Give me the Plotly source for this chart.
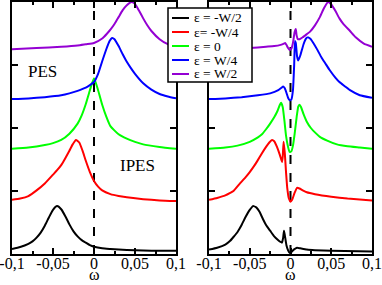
import plotly.graph_objects as go

# ---------------- data ----------------
labels = ["ε = -W/2", "ε= -W/4", "ε = 0", "ε = W/4", "ε = W/2"]
colors = ["#000000", "#ff0000", "#00ff00", "#0000ff", "#9400d3"]

# Left panel
L_black_x = [-0.1, -0.09, -0.08, -0.075, -0.07, -0.065, -0.06, -0.055, -0.05, -0.045, -0.04, -0.035, -0.03, -0.025, -0.02, -0.015, -0.01, -0.005, 0.0, 0.01, 0.02, 0.04, 0.06, 0.08, 0.1]
L_black_y = [0.08, 0.11, 0.16, 0.20, 0.26, 0.34, 0.45, 0.58, 0.70, 0.76, 0.71, 0.60, 0.47, 0.36, 0.28, 0.22, 0.18, 0.14, 0.115, 0.09, 0.08, 0.065, 0.055, 0.05, 0.05]

L_red_x = [-0.1, -0.09, -0.08, -0.07, -0.06, -0.05, -0.045, -0.04, -0.035, -0.03, -0.026, -0.022, -0.018, -0.014, -0.01, -0.005, 0.0, 0.005, 0.01, 0.02, 0.03, 0.04, 0.06, 0.08, 0.1]
L_red_y = [0.86, 0.88, 0.92, 1.01, 1.12, 1.26, 1.33, 1.41, 1.52, 1.64, 1.74, 1.81, 1.77, 1.64, 1.48, 1.30, 1.16, 1.07, 1.01, 0.95, 0.92, 0.90, 0.87, 0.85, 0.84]

L_green_x = [-0.1, -0.08, -0.06, -0.05, -0.04, -0.03, -0.02, -0.015, -0.01, -0.005, 0.0, 0.005, 0.01, 0.015, 0.02, 0.03, 0.04, 0.05, 0.06, 0.08, 0.1]
L_green_y = [1.67, 1.69, 1.73, 1.76, 1.81, 1.91, 2.07, 2.20, 2.38, 2.60, 2.79, 2.60, 2.37, 2.18, 2.03, 1.90, 1.83, 1.78, 1.74, 1.70, 1.67]

L_blue_x = [-0.1, -0.08, -0.06, -0.04, -0.03, -0.02, -0.01, -0.005, 0.0, 0.005, 0.01, 0.015, 0.019, 0.022, 0.025, 0.03, 0.035, 0.04, 0.045, 0.05, 0.06, 0.07, 0.08, 0.09, 0.1]
L_blue_y = [2.46, 2.47, 2.49, 2.52, 2.55, 2.59, 2.64, 2.68, 2.73, 2.86, 3.06, 3.25, 3.38, 3.43, 3.41, 3.30, 3.17, 3.05, 2.95, 2.86, 2.71, 2.61, 2.54, 2.50, 2.47]

L_purple_x = [-0.1, -0.07, -0.04, -0.02, -0.01, 0.0, 0.01, 0.016, 0.02, 0.025, 0.03, 0.035, 0.04, 0.046, 0.05, 0.055, 0.06, 0.065, 0.07, 0.08, 0.09, 0.1]
L_purple_y = [3.25, 3.27, 3.29, 3.31, 3.33, 3.35, 3.42, 3.50, 3.56, 3.65, 3.76, 3.87, 3.95, 4.00, 3.97, 3.86, 3.74, 3.63, 3.54, 3.41, 3.33, 3.28]

# Right panel
R_black_x = [-0.1, -0.09, -0.08, -0.074, -0.07, -0.065, -0.06, -0.055, -0.05, -0.046, -0.042, -0.038, -0.034, -0.03, -0.025, -0.02, -0.015, -0.012, -0.0105, -0.009, -0.008, -0.007, -0.005, -0.003, -0.001, 0.001, 0.004, 0.008, 0.012, 0.02, 0.03, 0.05, 0.1]
R_black_y = [0.07, 0.10, 0.15, 0.21, 0.27, 0.35, 0.46, 0.59, 0.70, 0.76, 0.74, 0.67, 0.56, 0.46, 0.37, 0.28, 0.22, 0.19, 0.18, 0.26, 0.37, 0.30, 0.14, 0.06, 0.02, 0.03, 0.07, 0.10, 0.09, 0.07, 0.06, 0.05, 0.04]

R_red_x = [-0.1, -0.09, -0.08, -0.074, -0.07, -0.062, -0.055, -0.05, -0.045, -0.041, -0.035, -0.03, -0.026, -0.0227, -0.02, -0.0166, -0.013, -0.0104, -0.0095, -0.0085, -0.007, -0.0055, -0.004, -0.002, 0.0, 0.002, 0.005, 0.008, 0.011, 0.015, 0.02, 0.03, 0.05, 0.07, 0.1]
R_red_y = [0.86, 0.89, 0.93, 0.97, 1.00, 1.12, 1.22, 1.30, 1.39, 1.47, 1.60, 1.70, 1.77, 1.81, 1.79, 1.70, 1.57, 1.46, 1.55, 1.78, 1.60, 1.30, 1.05, 0.88, 0.83, 0.86, 0.97, 1.05, 1.04, 1.01, 0.98, 0.95, 0.91, 0.88, 0.85]

R_green_x = [-0.1, -0.08, -0.065, -0.05, -0.04, -0.035, -0.03, -0.025, -0.02, -0.016, -0.013, -0.0115, -0.0095, -0.0075, -0.0055, -0.003, -0.001, 0.001, 0.003, 0.005, 0.0075, 0.0095, 0.011, 0.013, 0.016, 0.02, 0.025, 0.03, 0.036, 0.045, 0.057, 0.07, 0.085, 0.1]
R_green_y = [1.67, 1.69, 1.72, 1.78, 1.85, 1.90, 1.98, 2.07, 2.17, 2.27, 2.37, 2.40, 2.33, 2.12, 1.88, 1.70, 1.62, 1.63, 1.72, 1.90, 2.17, 2.34, 2.37, 2.33, 2.22, 2.10, 2.00, 1.93, 1.86, 1.80, 1.74, 1.71, 1.69, 1.67]

R_blue_x = [-0.1, -0.08, -0.06, -0.04, -0.025, -0.015, -0.011, -0.009, -0.007, -0.005, -0.003, -0.001, 0.001, 0.003, 0.0045, 0.0055, 0.0065, 0.008, 0.0095, 0.012, 0.016, 0.019, 0.021, 0.024, 0.028, 0.033, 0.038, 0.043, 0.048, 0.055, 0.06, 0.067, 0.073, 0.085, 0.1]
R_blue_y = [2.46, 2.47, 2.49, 2.52, 2.55, 2.60, 2.64, 2.66, 2.63, 2.56, 2.48, 2.44, 2.45, 2.60, 3.00, 3.38, 3.35, 3.14, 3.07, 3.15, 3.33, 3.42, 3.44, 3.42, 3.35, 3.24, 3.12, 3.02, 2.92, 2.80, 2.73, 2.66, 2.60, 2.52, 2.48]

R_purple_x = [-0.1, -0.07, -0.05, -0.03, -0.02, -0.012, -0.008, -0.0065, -0.005, -0.003, -0.001, 0.001, 0.003, 0.005, 0.0065, 0.0075, 0.009, 0.011, 0.015, 0.02, 0.024, 0.03, 0.036, 0.041, 0.046, 0.05, 0.055, 0.06, 0.065, 0.073, 0.08, 0.09, 0.1]
R_purple_y = [3.25, 3.26, 3.27, 3.29, 3.30, 3.32, 3.34, 3.35, 3.32, 3.27, 3.24, 3.26, 3.35, 3.52, 3.57, 3.47, 3.41, 3.41, 3.44, 3.49, 3.53, 3.63, 3.76, 3.90, 4.00, 3.96, 3.86, 3.74, 3.65, 3.54, 3.44, 3.34, 3.29]

x_tickvals = [-0.1, -0.05, 0, 0.05, 0.1]
x_ticktext = ["-0,1", "-0,05", "0", "0,05", "0,1"]
y_tickvals = [0, 1, 2, 3, 4]

left = [(L_black_x, L_black_y), (L_red_x, L_red_y), (L_green_x, L_green_y), (L_blue_x, L_blue_y), (L_purple_x, L_purple_y)]
right = [(R_black_x, R_black_y), (R_red_x, R_red_y), (R_green_x, R_green_y), (R_blue_x, R_blue_y), (R_purple_x, R_purple_y)]

FONT = "Liberation Serif"
fig = go.Figure()

for i, (xs, ys) in enumerate(left):
    fig.add_trace(go.Scatter(x=xs, y=ys, mode="lines", name=labels[i],
                             line=dict(color=colors[i], width=2, shape="spline", smoothing=0.5),
                             xaxis="x", yaxis="y", showlegend=False))
for i, (xs, ys) in enumerate(right):
    fig.add_trace(go.Scatter(x=xs, y=ys, mode="lines", name=labels[i],
                             line=dict(color=colors[i], width=2, shape="spline", smoothing=0.4),
                             xaxis="x2", yaxis="y2", showlegend=False))

W, H = 382, 285
xd1 = [12 / W, 176 / W]
xd2 = [209 / W, 372 / W]
yd = [(H - 254) / H, (H - 2) / H]

xcommon = dict(range=[-0.1, 0.1], tickvals=x_tickvals, ticktext=x_ticktext,
               ticks="inside", ticklen=6, tickwidth=1.5, tickcolor="black",
               showline=True, linecolor="black", linewidth=2, mirror="ticks",
               showgrid=False, zeroline=False,
               minor=dict(dtick=0.025, tick0=0, ticks="inside", ticklen=3, tickwidth=1.5, tickcolor="black"),
               tickfont=dict(family=FONT, size=16, color="black"),
               ticklabeloverflow="allow", ticklabelstandoff=-6,
               automargin=False)
ycommon = dict(range=[0, 4], tickvals=y_tickvals, showticklabels=False,
               ticks="inside", ticklen=6, tickwidth=1.5, tickcolor="black",
               showline=True, linecolor="black", linewidth=2, mirror="ticks",
               showgrid=False, zeroline=False, automargin=False)

fig.update_layout(
    width=W, height=H,
    margin=dict(l=0, r=0, t=0, b=0),
    paper_bgcolor="white", plot_bgcolor="white",
    xaxis=dict(domain=xd1, anchor="y", **xcommon),
    yaxis=dict(domain=yd, anchor="x", **ycommon),
    xaxis2=dict(domain=xd2, anchor="y2", **xcommon),
    yaxis2=dict(domain=yd, anchor="x2", **ycommon),
    showlegend=False,
    font=dict(family=FONT, color="black"),
)

for xr, yr in [("x", "y"), ("x2", "y2")]:
    fig.add_shape(type="line", xref=xr, yref=yr, x0=0, x1=0, y0=0, y1=4,
                  line=dict(color="black", width=2, dash="dash"), layer="below")

def px(xp):
    return xp / W

def py(yp):
    return 1 - yp / H

# axis titles (ω) under each panel
for xr in ["x domain", "x2 domain"]:
    fig.add_annotation(text="ω", xref=xr, yref="paper", x=0.5, y=0, showarrow=False,
                       xanchor="center", yanchor="bottom", yshift=0,
                       font=dict(family=FONT, size=16, color="black"))

fig.add_annotation(text="PES", xref="x", yref="y", x=-0.0835, y=2.9, showarrow=False,
                   xanchor="left", font=dict(family=FONT, size=17, color="black"))
fig.add_annotation(text="IPES", xref="x", yref="y", x=0.0295, y=1.4, showarrow=False,
                   xanchor="left", font=dict(family=FONT, size=17, color="black"))

# legend box drawn in paper coordinates
fig.add_shape(type="rect", xref="paper", yref="paper", x0=px(168), x1=px(252), y0=py(82), y1=py(8),
              line=dict(color="black", width=1.5), fillcolor="white", layer="above")
row_y = [18, 32, 46, 60, 74]
for i, lab in enumerate(labels):
    fig.add_shape(type="line", xref="paper", yref="paper", x0=px(172), x1=px(189),
                  y0=py(row_y[i]), y1=py(row_y[i]), line=dict(color=colors[i], width=2), layer="above")
    fig.add_annotation(text=lab, xref="paper", yref="paper", x=px(192), y=py(row_y[i]),
                       xanchor="left", yanchor="middle", showarrow=False,
                       font=dict(family=FONT, size=13.5, color="black"))

fig.write_html("out.html", config={"displayModeBar": False},
               post_script="document.body.style.margin='0';document.body.style.overflow='hidden';")
